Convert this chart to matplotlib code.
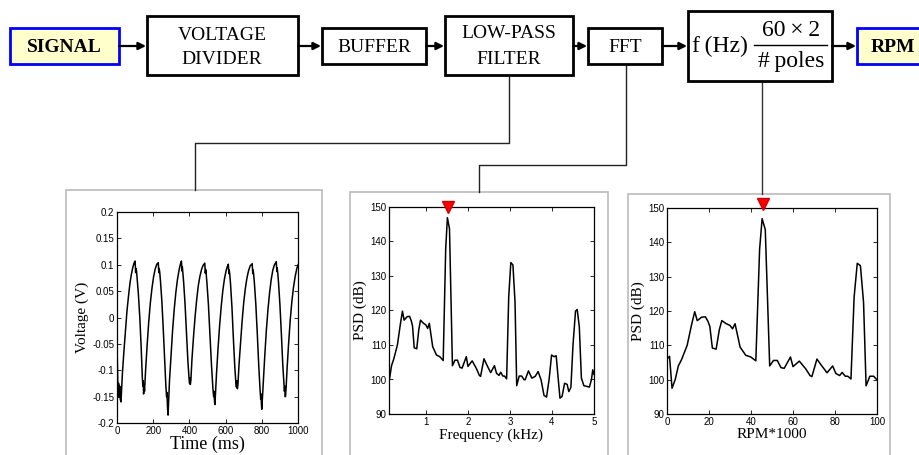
import matplotlib
matplotlib.use("Agg")
import matplotlib.pyplot as plt
from matplotlib.patches import Rectangle

# Data

# low-pass filtered signal (ms, V)
time_ms = [0, 4, 7, 9, 12, 15, 18, 22, 25,
           30, 38, 46, 55, 64, 72, 80, 88, 95, 100, 103, 105, 108, 111, 118, 126, 134, 140, 143, 145, 147, 150, 152,
           158, 166, 175, 184, 193, 202, 211, 220, 228, 231, 233, 236, 240, 248, 256, 264, 270, 274, 276, 279, 282, 285,
           290, 298, 307, 316, 325, 334, 343, 351, 356, 359, 361, 364, 368, 376, 384, 392, 398, 401, 403, 405, 408,
           414, 422, 431, 440, 449, 458, 467, 476, 485, 488, 490, 493, 497, 505, 514, 522, 530, 534, 536, 539, 541, 544,
           550, 558, 567, 576, 585, 594, 603, 610, 615, 618, 620, 623, 627, 635, 643, 651, 657, 660, 662, 665, 668,
           674, 682, 691, 700, 709, 718, 727, 736, 747, 750, 752, 755, 759, 767, 775, 783, 790, 794, 796, 798, 800, 803,
           808, 816, 825, 834, 843, 852, 861, 870, 880, 883, 885, 888, 892, 900, 908, 916, 922, 925, 927, 929, 931, 934,
           940, 948, 957, 966, 975, 984, 993, 1000]
voltage = [-0.05, -0.12, -0.135, -0.125, -0.15, -0.13, -0.155, -0.16, -0.14,
           -0.105, -0.065, -0.03, 0.012, 0.042, 0.066, 0.083, 0.096, 0.104, 0.107, 0.085, 0.093, 0.088, 0.075, 0.045, 0.0, -0.06, -0.115, -0.13, -0.12, -0.145, -0.13, -0.14,
           -0.1, -0.055, -0.01, 0.027, 0.055, 0.077, 0.092, 0.101, 0.104, 0.085, 0.093, 0.086, 0.07, 0.03, -0.025, -0.085, -0.13, -0.15, -0.142, -0.17, -0.185, -0.16,
           -0.12, -0.075, -0.025, 0.015, 0.047, 0.072, 0.09, 0.102, 0.107, 0.088, 0.096, 0.084, 0.068, 0.025, -0.03, -0.085, -0.115, -0.125, -0.115, -0.127, -0.12,
           -0.08, -0.04, 0.0, 0.033, 0.06, 0.078, 0.091, 0.099, 0.103, 0.084, 0.091, 0.082, 0.065, 0.025, -0.035, -0.09, -0.135, -0.15, -0.14, -0.16, -0.165, -0.145,
           -0.105, -0.06, -0.015, 0.022, 0.052, 0.074, 0.089, 0.097, 0.101, 0.083, 0.09, 0.082, 0.065, 0.02, -0.04, -0.095, -0.125, -0.132, -0.12, -0.135, -0.128,
           -0.09, -0.05, -0.008, 0.028, 0.055, 0.075, 0.089, 0.098, 0.102, 0.083, 0.09, 0.082, 0.066, 0.025, -0.03, -0.09, -0.135, -0.155, -0.145, -0.165, -0.174, -0.155,
           -0.12, -0.075, -0.025, 0.015, 0.047, 0.072, 0.09, 0.1, 0.106, 0.087, 0.094, 0.085, 0.068, 0.025, -0.03, -0.09, -0.125, -0.14, -0.13, -0.15, -0.15, -0.135,
           -0.095, -0.05, -0.005, 0.03, 0.057, 0.077, 0.092, 0.1]

# power spectral density (kHz, dB)
freq_khz = [0.00, 0.04, 0.08, 0.13, 0.18, 0.23, 0.32, 0.39, 0.44, 0.48, 0.55, 0.61, 0.65, 0.68, 0.72, 0.78,
            0.83, 0.87, 0.94, 1.00, 1.04, 1.08, 1.16, 1.25, 1.33, 1.41, 1.47, 1.51, 1.56, 1.63, 1.69, 1.75,
            1.81, 1.86, 1.96, 2.00, 2.10, 2.20, 2.27, 2.30, 2.38, 2.45, 2.54, 2.63, 2.68, 2.74, 2.78, 2.83,
            2.87, 2.92, 2.97, 3.02, 3.07, 3.12, 3.16, 3.22, 3.28, 3.33, 3.36, 3.44, 3.52, 3.60, 3.67, 3.74,
            3.81, 3.87, 3.93, 3.99, 4.05, 4.10, 4.14, 4.19, 4.24, 4.30, 4.36, 4.40, 4.45, 4.50, 4.56, 4.60,
            4.65, 4.70, 4.76, 4.83, 4.89, 4.94, 4.97, 5.00]
psd_db = [106.0, 106.8, 97.5, 100.0, 104.0, 105.8, 110.0, 116.0, 119.8, 117.2, 118.2, 118.3, 117.0, 115.5, 109.2, 108.9,
          114.5, 117.2, 116.3, 115.8, 114.8, 116.3, 109.5, 107.1, 106.6, 105.5, 138.0, 146.9, 143.7, 104.0, 105.6, 105.6,
          103.5, 103.3, 106.6, 103.8, 105.4, 103.2, 101.2, 100.9, 106.0, 104.2, 102.0, 104.0, 101.8, 101.2, 102.1, 101.0,
          101.0, 100.2, 124.0, 133.9, 133.2, 122.5, 98.2, 101.0, 101.0, 100.0, 99.9, 102.5, 100.4, 100.9, 102.3, 99.9,
          95.4, 94.9, 99.9, 107.1, 106.6, 106.9, 101.3, 94.6, 95.1, 98.9, 98.6, 96.5, 97.7, 110.0, 119.8, 120.3,
          115.3, 100.4, 98.2, 98.0, 97.8, 100.0, 102.8, 101.5]

peak_khz = 1.52
poles = 4
rpm_k = [f * 1000 * 60 * 2 / poles / 1000 for f in freq_khz]
peak_rpm_k = peak_khz * 1000 * 60 * 2 / poles / 1000

volt_ticks = [-0.2, -0.15, -0.1, -0.05, 0, 0.05, 0.1, 0.15, 0.2]
volt_labels = ["-0.2", "-0.15", "-0.1", "-0.05", "0", "0.05", "0.1", "0.15", "0.2"]
time_ticks = [0, 200, 400, 600, 800, 1000]
psd_ticks = [90, 100, 110, 120, 130, 140, 150]
freq_ticks = [1, 2, 3, 4, 5]
rpm_ticks = [0, 20, 40, 60, 80, 100]

SERIF = "Liberation Serif"
SANS = "Liberation Sans"
W, H = 920, 455

fig = plt.figure(figsize=(W / 100, H / 100), dpi=100)
fig.patch.set_facecolor("white")

# full-figure canvas in pixel units for the block diagram
bg = fig.add_axes([0, 0, 1, 1])
bg.set_xlim(0, W)
bg.set_ylim(H, 0)
bg.axis("off")


def box(x0, y0, x1, y1, face="white", edge="black", lw=2.0):
    bg.add_patch(Rectangle((x0, y0), x1 - x0, y1 - y0, facecolor=face,
                           edgecolor=edge, lw=lw, zorder=3))


def arrow(x0, x1, y=46):
    bg.annotate("", xy=(x1, y), xytext=(x0, y),
                arrowprops=dict(arrowstyle="-|>", color="black", lw=1.6,
                                mutation_scale=11, shrinkA=0, shrinkB=0), zorder=4)


# blocks
box(10, 28, 119, 64, face="#ffffcc", edge="#0000ff", lw=2)
bg.text(64, 47, "SIGNAL", ha="center", va="center", fontsize=14,
        family=SERIF, fontweight="bold", zorder=5)

box(147, 16, 298, 75)
bg.text(222, 35, "VOLTAGE", ha="center", va="center", fontsize=14, family=SERIF, zorder=5)
bg.text(222, 59, "DIVIDER", ha="center", va="center", fontsize=14, family=SERIF, zorder=5)

box(322, 28, 426, 64)
bg.text(374, 47, "BUFFER", ha="center", va="center", fontsize=14, family=SERIF, zorder=5)

box(445, 16, 573, 75)
bg.text(509, 34, "LOW-PASS", ha="center", va="center", fontsize=14, family=SERIF, zorder=5)
bg.text(509, 59, "FILTER", ha="center", va="center", fontsize=14, family=SERIF, zorder=5)

box(588, 28, 662, 64)
bg.text(625, 47, "FFT", ha="center", va="center", fontsize=14, family=SERIF, zorder=5)

box(688, 11, 832, 81)
bg.text(692, 46, "f\u2009(Hz)", ha="left", va="center", fontsize=17, family=SERIF, zorder=5)
bg.text(791, 30, "60\u2009\u00d7\u20092", ha="center", va="center", fontsize=17, family=SERIF, zorder=5)
bg.plot([754, 827], [45, 45], color="black", lw=1.0, zorder=5)
bg.text(791, 62, "#\u2009poles", ha="center", va="center", fontsize=17, family=SERIF, zorder=5)

box(857, 28, 930, 64, face="#ffffcc", edge="#0000ff", lw=2)
bg.text(893, 47, "RPM", ha="center", va="center", fontsize=14,
        family=SERIF, fontweight="bold", zorder=5)

arrow(119, 146)
arrow(298, 321)
arrow(426, 444)
arrow(573, 587)
arrow(662, 687)
arrow(832, 856)

# connectors to the panels
bg.plot([509, 509, 195, 195], [75, 143, 143, 190], color="#222222", lw=1.0, zorder=2)
bg.plot([626, 626, 479, 479], [64, 165, 165, 192], color="#222222", lw=1.0, zorder=2)
bg.plot([762, 762], [81, 194], color="#333333", lw=1.0, zorder=2)

# panel frames
for x0, y0, x1 in [(66, 190, 322), (350, 192, 608), (628, 194, 890)]:
    bg.add_patch(Rectangle((x0, y0), x1 - x0, H + 5 - y0, facecolor="white",
                           edgecolor="#bbbbbb", lw=1.2, zorder=1))


def panel(x0, y0, x1, y1):
    ax = fig.add_axes([x0 / W, 1 - y1 / H, (x1 - x0) / W, (y1 - y0) / H])
    ax.tick_params(direction="in", top=True, right=True, length=3, width=0.6,
                   labelsize=7, pad=2)
    for sp in ax.spines.values():
        sp.set_linewidth(0.9)
    return ax


def sans_ticks(ax):
    for lab in ax.get_xticklabels() + ax.get_yticklabels():
        lab.set_family(SANS)
        lab.set_fontsize(7)


# time-domain panel
ax1 = panel(117, 212, 298, 423)
ax1.plot(time_ms, voltage, color="black", lw=1.1)
ax1.set_xlim(0, 1000)
ax1.set_ylim(-0.2, 0.2)
ax1.set_xticks(time_ticks)
ax1.set_yticks(volt_ticks)
ax1.set_yticklabels(volt_labels)
sans_ticks(ax1)
ax1.set_xlabel("Time (ms)", family=SERIF, fontsize=13, labelpad=0)
ax1.set_ylabel("Voltage (V)", family=SERIF, fontsize=11, labelpad=2)

# frequency panel
ax2 = panel(389, 207, 594, 414)
ax2.plot(freq_khz, psd_db, color="black", lw=1.1)
ax2.plot([peak_khz], [150], marker="v", color="#ff0000", markeredgecolor="#cc0000",
         markersize=9, clip_on=False, zorder=5)
ax2.set_xlim(0.12, 5)
ax2.set_ylim(90, 150)
ax2.set_xticks(freq_ticks)
ax2.set_yticks(psd_ticks)
sans_ticks(ax2)
ax2.set_xlabel("Frequency (kHz)", family=SERIF, fontsize=11, labelpad=1)
ax2.set_ylabel("PSD (dB)", family=SERIF, fontsize=11, labelpad=2)

# rpm panel
ax3 = panel(667, 208, 877, 414)
ax3.plot(rpm_k, psd_db, color="black", lw=1.1)
ax3.plot([peak_rpm_k], [151.2], marker="v", color="#ff0000", markeredgecolor="#cc0000",
         markersize=8, clip_on=False, zorder=5)
ax3.set_xlim(0, 100)
ax3.set_ylim(90, 150)
ax3.set_xticks(rpm_ticks)
ax3.set_yticks(psd_ticks)
sans_ticks(ax3)
ax3.set_xlabel("RPM*1000", family=SERIF, fontsize=11, labelpad=1)
ax3.set_ylabel("PSD (dB)", family=SERIF, fontsize=11, labelpad=2)

fig.savefig("out.png", dpi=100)
